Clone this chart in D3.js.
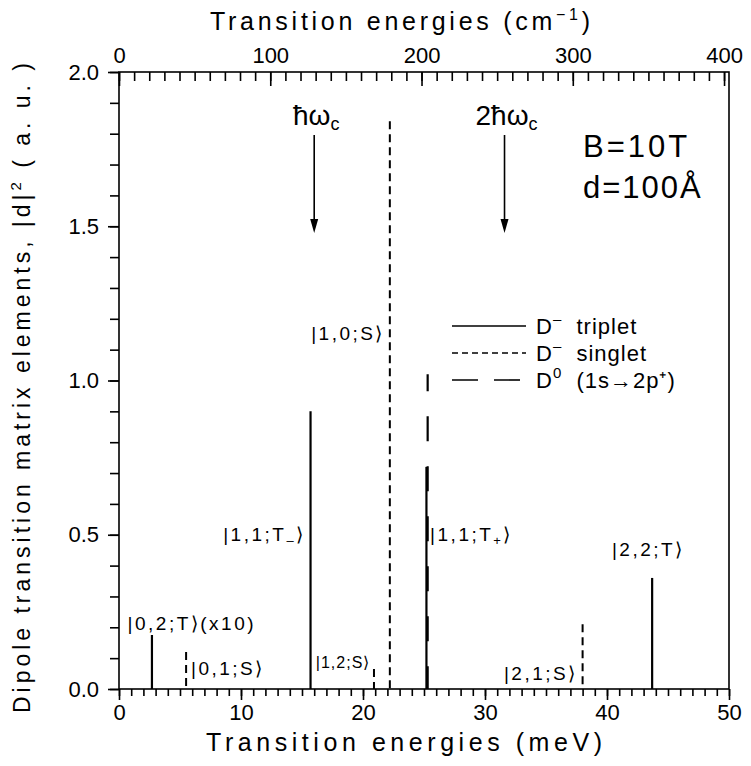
<!DOCTYPE html>
<head>
  <meta charset="utf-8">
  <script src="https://d3js.org/d3.v7.min.js"></script>
  <style>
    body { margin: 0; background: #fff; }
    svg { font-family: "Liberation Sans", Arial, sans-serif; }
    .axis path, .axis line { stroke: #000; stroke-width: 1.6; }
    .axis text { font-size: 22px; fill: #000; font-family: "Liberation Sans", Arial, sans-serif; }
    .ket { font-size: 19px; letter-spacing: 2.5px; }
  </style>
</head>
<body>
  <svg width="751" height="766"></svg>
  <script>
    // D- triplet transitions (meV, |d|^2)
    var tripletE = [2.7, 15.7, 25.2, 43.7];
    var tripletD = [0.175, 0.90, 0.72, 0.36];
    // D- singlet transitions
    var singletE = [5.5, 20.9, 22.2, 38.0];
    var singletD = [0.12, 0.065, 1.84, 0.21];
    // D0 1s -> 2p+
    var d0E = [25.3];
    var d0D = [1.02];

    var xTicks = [0, 10, 20, 30, 40, 50];
    var yTicks = [0.0, 0.5, 1.0, 1.5, 2.0];
    var topTicks = [0, 100, 200, 300, 400];
    var cmPerMeV = 8.0655;

    var svg = d3.select('svg');
    var pL = 119, pR = 729, pT = 72, pB = 689;

    var x = d3.scaleLinear().domain([0, 50]).range([pL, pR]);
    var xcm = d3.scaleLinear().domain([0, 50 * cmPerMeV]).range([pL, pR]);
    var y = d3.scaleLinear().domain([0, 2]).range([pB, pT]);

    // frame
    svg.append('rect')
      .attr('x', pL).attr('y', pT)
      .attr('width', pR - pL).attr('height', pB - pT)
      .attr('fill', 'none').attr('stroke', '#000').attr('stroke-width', 1.6);

    // bottom axis
    svg.append('g').attr('class', 'axis')
      .attr('transform', 'translate(0,' + pB + ')')
      .call(d3.axisBottom(x).tickValues(d3.range(0, 51, 1)).tickSize(7).tickFormat(''))
      .select('.domain').remove();
    svg.append('g').attr('class', 'axis')
      .attr('transform', 'translate(0,' + pB + ')')
      .call(d3.axisBottom(x).tickValues(xTicks).tickSize(11).tickPadding(4).tickFormat(d3.format('d')))
      .select('.domain').remove();

    // left axis
    svg.append('g').attr('class', 'axis')
      .attr('transform', 'translate(' + pL + ',0)')
      .call(d3.axisLeft(y).tickValues(d3.range(0, 20.5, 1).map(function(d) { return d / 10; })).tickSize(9).tickFormat(''))
      .select('.domain').remove();
    svg.append('g').attr('class', 'axis')
      .attr('transform', 'translate(' + pL + ',0)')
      .call(d3.axisLeft(y).tickValues(yTicks).tickSize(11).tickPadding(9).tickFormat(d3.format('.1f')))
      .select('.domain').remove();

    // top axis in cm^-1, ticks pointing inward
    svg.append('g').attr('class', 'axis')
      .attr('transform', 'translate(0,' + pT + ')')
      .call(d3.axisTop(xcm).tickValues(d3.range(0, 401, 10)).tickSize(-9).tickFormat(''))
      .select('.domain').remove();
    svg.append('g').attr('class', 'axis')
      .attr('transform', 'translate(0,' + pT + ')')
      .call(d3.axisTop(xcm).tickValues(topTicks).tickSize(-14).tickPadding(9).tickFormat(d3.format('d')))
      .select('.domain').remove();

    // axis titles
    var t1 = svg.append('text').attr('x', 400).attr('y', 30)
      .attr('text-anchor', 'middle').attr('font-size', 25)
      .attr('textLength', 380).attr('lengthAdjust', 'spacing');
    t1.append('tspan').text('Transition  energies  (cm');
    t1.append('tspan').attr('dy', -10).attr('font-size', 16).text('−1');
    t1.append('tspan').attr('dy', 10).text(')');

    svg.append('text').attr('x', 404).attr('y', 751)
      .attr('text-anchor', 'middle').attr('font-size', 25)
      .attr('textLength', 396).attr('lengthAdjust', 'spacing')
      .text('Transition  energies  (meV)');

    var yt = svg.append('text')
      .attr('transform', 'translate(30,388)rotate(-90)')
      .attr('text-anchor', 'middle').attr('font-size', 23)
      .attr('textLength', 650).attr('lengthAdjust', 'spacing');
    yt.append('tspan').text('Dipole  transition  matrix  elements,  |d|');
    yt.append('tspan').attr('dy', -9).attr('font-size', 15).text('2');
    yt.append('tspan').attr('dy', 9).text(' ( a.  u. )');

    // transition lines
    function sticks(E, D, dash, width, offset) {
      svg.append('g').selectAll('line')
        .data(E).enter().append('line')
        .attr('x1', function(d) { return x(d); })
        .attr('x2', function(d) { return x(d); })
        .attr('y1', function(d, i) { return y(D[i]); })
        .attr('y2', y(0))
        .attr('stroke', '#000').attr('stroke-width', width)
        .attr('stroke-dasharray', dash)
        .attr('stroke-dashoffset', offset || 0);
    }
    sticks(singletE, singletD, '8,5', 2);
    sticks(d0E, d0D, '25,25', 2.2, 8);
    sticks(tripletE, tripletD, null, 2.2);

    // ket labels
    var kets = [
      { e: 0.7, v: 0.19, anchor: 'start', parts: ['|0,2;T⟩(x10)'] },
      { e: 5.9, v: 0.045, anchor: 'start', parts: ['|0,1;S⟩'] },
      { e: 20.6, v: 0.068, anchor: 'end', parts: ['|1,2;S⟩'], size: 16, ls: 1 },
      { e: 15.3, v: 0.48, anchor: 'end', parts: ['|1,1;T', '–', '⟩'] },
      { e: 21.8, v: 1.13, anchor: 'end', parts: ['|1,0;S⟩'] },
      { e: 25.5, v: 0.48, anchor: 'start', parts: ['|1,1;T', '+', '⟩'] },
      { e: 37.6, v: 0.03, anchor: 'end', parts: ['|2,1;S⟩'] },
      { e: 40.4, v: 0.43, anchor: 'start', parts: ['|2,2;T⟩'] }
    ];
    kets.forEach(function(k) {
      var t = svg.append('text').attr('class', 'ket')
        .attr('x', x(k.e)).attr('y', y(k.v))
        .attr('text-anchor', k.anchor);
      if (k.size) t.style('font-size', k.size + 'px').style('letter-spacing', k.ls + 'px');
      t.append('tspan').text(k.parts[0]);
      if (k.parts.length > 1) {
        t.append('tspan').attr('dy', 4).attr('font-size', 13).text(k.parts[1]);
        t.append('tspan').attr('dy', -4).text(k.parts[2]);
      }
    });

    // cyclotron arrows
    function arrow(e, label) {
      var ax = x(e);
      svg.append('line').attr('x1', ax).attr('x2', ax)
        .attr('y1', 135).attr('y2', 226)
        .attr('stroke', '#000').attr('stroke-width', 1.6);
      svg.append('path')
        .attr('d', 'M' + (ax - 4) + ',219L' + ax + ',233L' + (ax + 4) + ',219Z')
        .attr('fill', '#000');
      var t = svg.append('text').attr('x', ax + 2).attr('y', 125)
        .attr('text-anchor', 'middle').attr('font-size', 28);
      t.append('tspan').text(label);
      t.append('tspan').attr('dy', 5).attr('font-size', 18).text('c');
    }
    arrow(16.0, 'ħω');
    arrow(31.6, '2ħω');

    svg.append('text').attr('x', 583).attr('y', 157).attr('font-size', 31)
      .attr('letter-spacing', 3).text('B=10T');
    svg.append('text').attr('x', 583).attr('y', 198).attr('font-size', 31)
      .attr('letter-spacing', 2).text('d=100Å');

    // legend
    var legend = [
      { dash: null, sup: '–', name: '  triplet' },
      { dash: '6,4', sup: '–', name: '  singlet' },
      { dash: '26,16', sup: '0', name: '  (1s→2p⁺)' }
    ];
    legend.forEach(function(l, i) {
      var ly = 326 + i * 27;
      svg.append('line').attr('x1', 452).attr('x2', 526)
        .attr('y1', ly).attr('y2', ly)
        .attr('stroke', '#000').attr('stroke-width', 1.6)
        .attr('stroke-dasharray', l.dash);
      var t = svg.append('text').attr('x', 536).attr('y', ly + 8)
        .attr('font-size', 22).attr('letter-spacing', 1);
      t.append('tspan').text('D');
      t.append('tspan').attr('dy', -10).attr('font-size', 15).text(l.sup);
      t.append('tspan').attr('dy', 10).attr('xml:space', 'preserve').text(l.name);
    });
  </script>
</body>
